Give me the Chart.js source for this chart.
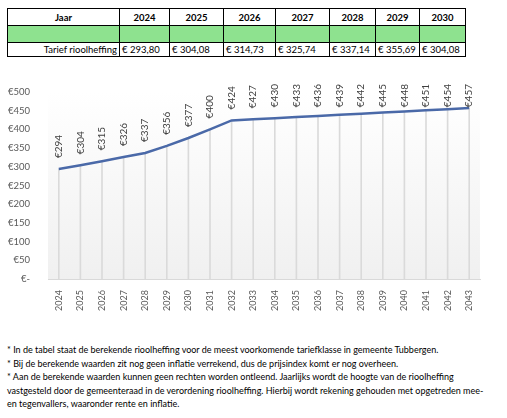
<!DOCTYPE html>
<html>
<head>
<meta charset="utf-8">
<script src="https://cdn.jsdelivr.net/npm/chart.js@4"></script>
<style>
  html, body { margin: 0; padding: 0; background: #fff; }
  body { width: 507px; height: 418px; position: relative; overflow: hidden; font-family: Lato, "Open Sans", sans-serif; }
  #tbl { position: absolute; left: 7px; top: 8px; border-collapse: collapse; table-layout: fixed; font-size: 9.5px; color: #000; }
  #tbl td { border: 1px solid #000; padding: 0 2px; white-space: nowrap; overflow: hidden; }
  #tbl tr.head td { height: 16px; font-weight: bold; text-align: center; }
  #tbl tr.green td { height: 16px; background: #8ee28f; }
  #tbl tr.vals td { height: 13px; text-align: left; }
  #tbl tr.vals td.lbl { text-align: right; }
  #wrap { position: absolute; left: 0; top: 75px; width: 507px; height: 240px; }
  #notes { position: absolute; left: 7px; top: 343px; width: 500px; font-size: 9px; line-height: 13.5px; color: #000; }
  #notes p { margin: 0; }
</style>
</head>
<body>
<table id="tbl">
  <colgroup id="cols"></colgroup>
  <tr class="head" id="headRow"><td>Jaar</td></tr>
  <tr class="green" id="greenRow"><td></td></tr>
  <tr class="vals" id="valRow"><td class="lbl">Tarief rioolheffing</td></tr>
</table>

<div id="wrap"><canvas id="chart"></canvas></div>

<div id="notes">
  <p>* In de tabel staat de berekende rioolheffing voor de meest voorkomende tariefklasse in gemeente Tubbergen.</p>
  <p>* Bij de berekende waarden zit nog geen inflatie verrekend, dus de prijsindex komt er nog overheen.</p>
  <p>* Aan de berekende waarden kunnen geen rechten worden ontleend. Jaarlijks wordt de hoogte van de rioolheffing</p>
  <p>vastgesteld door de gemeenteraad in de verordening rioolheffing. Hierbij wordt rekening gehouden met opgetreden mee-</p>
  <p>en tegenvallers, waaronder rente en inflatie.</p>
</div>

<script>
// ==================== DATA ====================
const tableYears = ['2024', '2025', '2026', '2027', '2028', '2029', '2030'];
const tableTariffs = ['€ 293,80', '€ 304,08', '€ 314,73', '€ 325,74', '€ 337,14', '€ 355,69', '€ 304,08'];
const colWidths = [112, 50, 54, 52, 54, 46, 44, 46];

const years = ['2024', '2025', '2026', '2027', '2028', '2029', '2030', '2031', '2032', '2033',
               '2034', '2035', '2036', '2037', '2038', '2039', '2040', '2041', '2042', '2043'];
const tariffs = [294, 304, 315, 326, 337, 356, 377, 400, 424, 427,
                 430, 433, 436, 439, 442, 445, 448, 451, 454, 457];

// ==================== TABLE ====================
function buildTable() {
    const cols = document.getElementById('cols');
    colWidths.forEach(w => {
        const c = document.createElement('col');
        c.style.width = w + 'px';
        cols.appendChild(c);
    });
    const head = document.getElementById('headRow');
    const green = document.getElementById('greenRow');
    const vals = document.getElementById('valRow');
    tableYears.forEach((y, i) => {
        const h = document.createElement('td'); h.textContent = y; head.appendChild(h);
        green.appendChild(document.createElement('td'));
        const v = document.createElement('td'); v.textContent = tableTariffs[i]; vals.appendChild(v);
    });
}
buildTable();

// ==================== PLUGINS ====================
const plotBackground = {
    id: 'plotBackground',
    beforeDraw(chart) {
        const {ctx, chartArea: a} = chart;
        const g = ctx.createLinearGradient(0, a.top, 0, a.bottom);
        g.addColorStop(0, '#ffffff');
        g.addColorStop(1, '#f0f0f0');
        ctx.save();
        ctx.fillStyle = g;
        ctx.fillRect(a.left, a.top, a.right - a.left, a.bottom - a.top);
        ctx.restore();
    }
};

// vertical value labels above each point, kept inside the top of the canvas
const valueLabels = {
    id: 'valueLabels',
    afterDatasetsDraw(chart) {
        const ctx = chart.ctx;
        const meta = chart.getDatasetMeta(1);
        ctx.save();
        ctx.font = '10px Lato, "Open Sans", sans-serif';
        ctx.fillStyle = '#404040';
        ctx.textBaseline = 'middle';
        meta.data.forEach((pt, i) => {
            const txt = '€' + tariffs[i];
            const w = ctx.measureText(txt).width;
            let bottom = pt.y - 11;
            if (bottom - w < 9) bottom = 9 + w;
            ctx.save();
            ctx.translate(pt.x, bottom);
            ctx.rotate(-Math.PI / 2);
            ctx.textAlign = 'left';
            ctx.fillText(txt, 0, 0);
            ctx.restore();
        });
        ctx.restore();
    }
};

// ==================== CHART ====================
const tickFont = {family: 'Lato, "Open Sans", sans-serif', size: 9.5};

new Chart(document.getElementById('chart'), {
    type: 'line',
    data: {
        labels: years,
        datasets: [{
            type: 'bar',
            data: tariffs,
            backgroundColor: '#dadada',
            barThickness: 1,
            order: 2
        }, {
            type: 'line',
            data: tariffs,
            borderColor: '#4a69a8',
            borderWidth: 2.5,
            pointRadius: 0,
            tension: 0,
            fill: false,
            order: 1
        }]
    },
    options: {
        responsive: true,
        maintainAspectRatio: false,
        animation: false,
        layout: {padding: {top: 17, left: 0, right: 27, bottom: 0}},
        plugins: {legend: {display: false}, tooltip: {enabled: false}},
        scales: {
            x: {
                offset: true,
                grid: {display: false},
                border: {color: '#d9d9d9'},
                ticks: {
                    color: '#595959', font: {...tickFont, size: 9},
                    minRotation: 90, maxRotation: 90, padding: 3, autoSkip: false
                },
                afterFit(scale) { scale.height = 36; }
            },
            y: {
                min: 0, max: 500,
                grid: {display: false},
                border: {display: false},
                ticks: {
                    stepSize: 50, color: '#595959', font: tickFont, padding: 10,
                    callback: v => v === 0 ? '€-' : '€' + v
                },
                afterFit(scale) { scale.width = 48; }
            }
        }
    },
    plugins: [plotBackground, valueLabels]
});
</script>
</body>
</html>
